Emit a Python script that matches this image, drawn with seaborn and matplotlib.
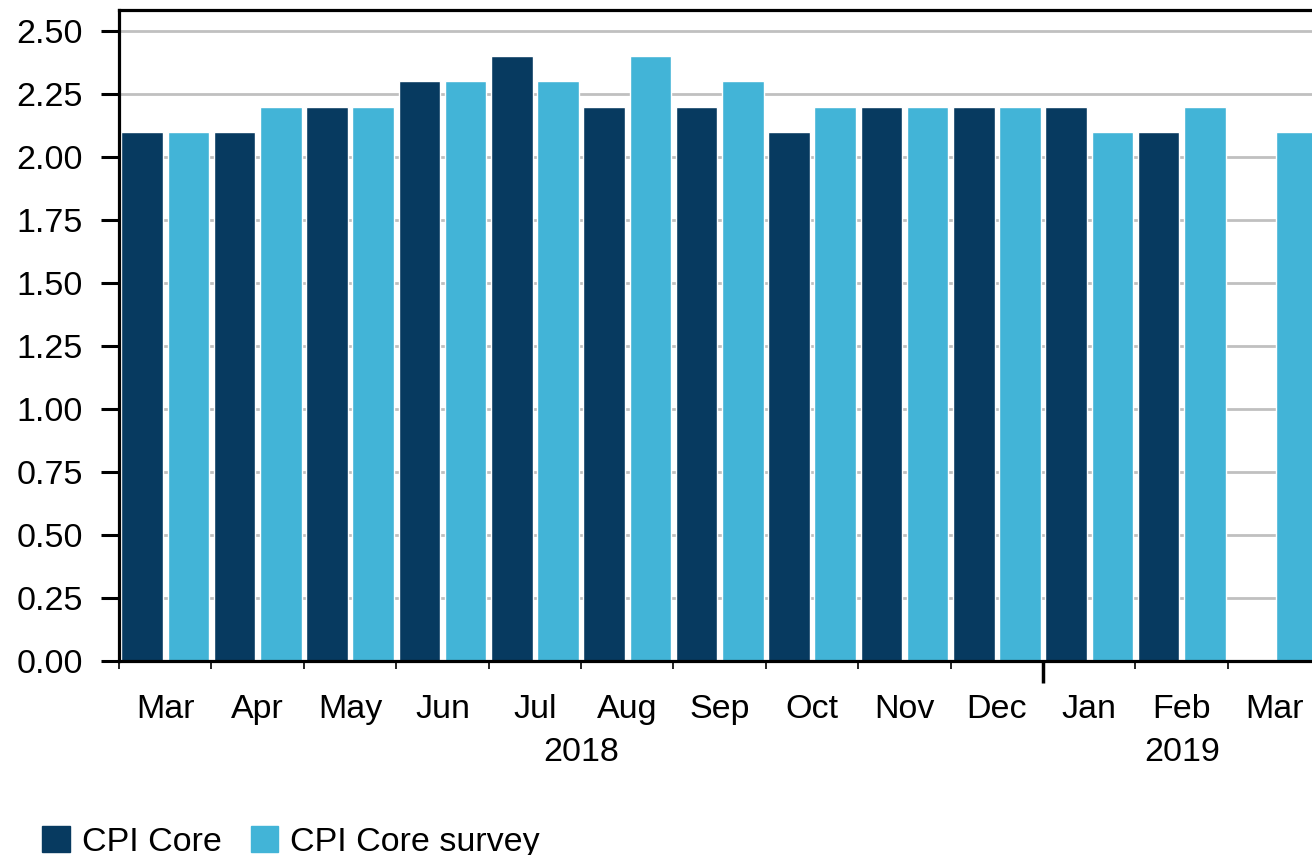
import numpy as np
import pandas as pd
import matplotlib
matplotlib.use("Agg")
import matplotlib.pyplot as plt
import matplotlib.patches as mpatches
import matplotlib.transforms as mtrans
import seaborn as sns

# data
months = ["Mar", "Apr", "May", "Jun", "Jul", "Aug", "Sep", "Oct", "Nov", "Dec", "Jan", "Feb", "Mar"]
keys = ["2018-03", "2018-04", "2018-05", "2018-06", "2018-07", "2018-08", "2018-09",
        "2018-10", "2018-11", "2018-12", "2019-01", "2019-02", "2019-03"]
cpi_core = [2.1, 2.1, 2.2, 2.3, 2.4, 2.2, 2.2, 2.1, 2.2, 2.2, 2.2, 2.1, np.nan]
cpi_survey = [2.1, 2.2, 2.2, 2.3, 2.3, 2.4, 2.3, 2.2, 2.2, 2.2, 2.1, 2.2, 2.1]
series = ["CPI Core", "CPI Core survey"]
colors = ["#073a60", "#42b4d7"]

df = pd.DataFrame({
    "month": keys * 2,
    "series": [series[0]] * len(keys) + [series[1]] * len(keys),
    "value": cpi_core + cpi_survey,
})

sns.set_style("white")
plt.rcParams["font.family"] = ["Liberation Sans", "DejaVu Sans"]
plt.rcParams["text.color"] = "black"
plt.rcParams["xtick.color"] = "black"
plt.rcParams["ytick.color"] = "black"
FS = 24.5

fig = plt.figure(figsize=(13.12, 8.55), dpi=100)
ax = fig.add_axes([119 / 1312, 0.2269, 1 - 119 / 1312, 0.7614])

sns.barplot(data=df, x="month", y="value", hue="series", order=keys,
            hue_order=series, palette=colors, width=1.0, gap=0.1,
            saturation=1, legend=False, ax=ax)

ax.set_yticks(np.arange(0, 2.51, 0.25))
ax.set_yticklabels(["%.2f" % v for v in np.arange(0, 2.51, 0.25)], fontsize=FS)
ax.yaxis.grid(True, color="#c0c0c0", linewidth=2)
ax.set_axisbelow(True)

for side in ["left", "bottom", "top"]:
    ax.spines[side].set_linewidth(2.3)
    ax.spines[side].set_color("black")
ax.spines["right"].set_visible(False)

ax.tick_params(axis="y", direction="out", length=13, width=2.2, pad=13, left=True)

# boundaries as major ticks, month names as minor ones
ax.set_xticks(np.arange(-0.5, 13.0, 1.0))
ax.set_xticklabels([])
ax.set_xticks(np.arange(len(months)), minor=True)
ax.set_xticklabels(months, minor=True, fontsize=FS)
ax.tick_params(axis="x", which="major", direction="out", length=6, width=1.2, bottom=True)
ax.tick_params(axis="x", which="minor", length=0, pad=24)
jan = ax.xaxis.get_major_ticks()[10]
jan.tick1line.set_markersize(16)
jan.tick1line.set_markeredgewidth(2.5)

# limits after the ticks, otherwise set_xticks widens the view
ax.set_ylim(0, 2.583)
ax.set_xlim(-0.5, 12.41)

ax.set_xlabel("")
ax.set_ylabel("")

trans = mtrans.blended_transform_factory(ax.transData, ax.transAxes)
ax.text(4.5, -0.14, "2018", transform=trans, ha="center", va="center", fontsize=FS)
ax.text(11.0, -0.14, "2019", transform=trans, ha="center", va="center", fontsize=FS)

handles = [mpatches.Patch(color=c, label=s) for c, s in zip(colors, series)]
fig.legend(handles=handles, loc="lower left", bbox_to_anchor=(0.032, -0.003), ncol=2,
           frameon=False, fontsize=FS, handlelength=0.82, handleheight=0.8,
           handletextpad=0.35, columnspacing=0.85, borderpad=0, borderaxespad=0)

fig.savefig("out.png", dpi=100)
